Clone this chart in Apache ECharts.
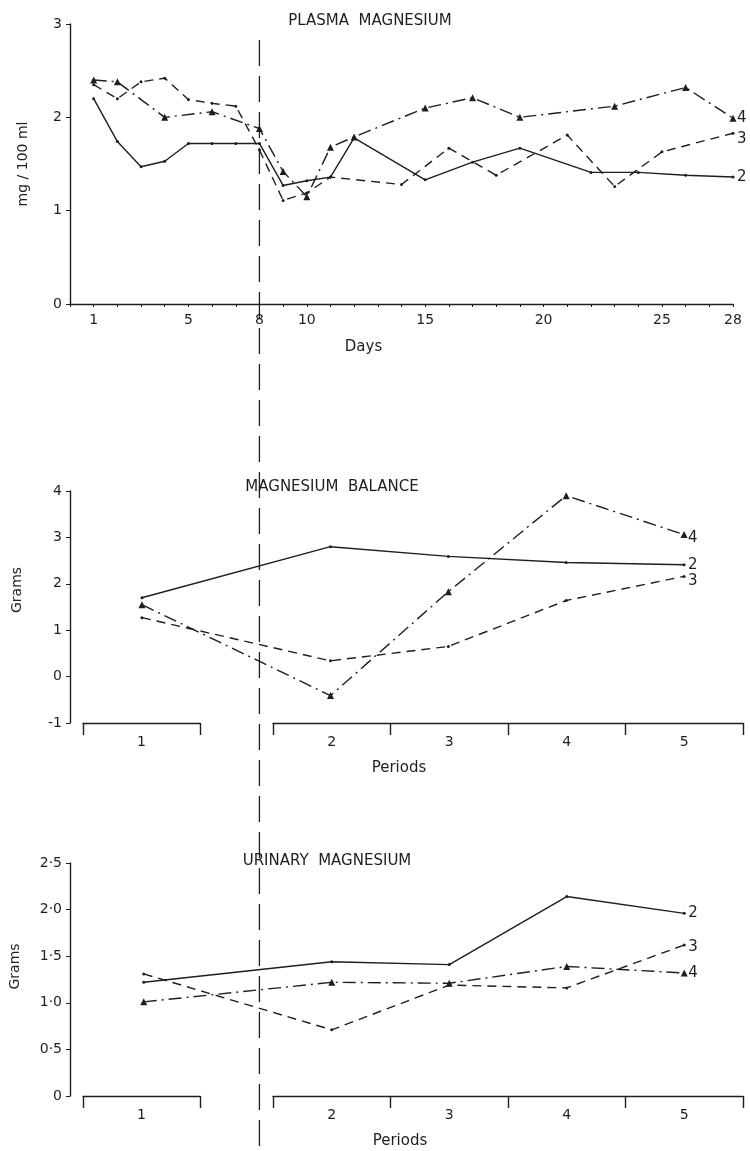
<!DOCTYPE html>
<html>
<head>
<meta charset="utf-8">
<style>
  html, body { margin: 0; padding: 0; background: #fff; }
  #container { width: 750px; height: 1151px; }
</style>
<script src="https://cdn.jsdelivr.net/npm/echarts@6/dist/echarts.min.js"></script>
</head>
<body>
<div id="container"></div>
<script>
// plasma magnesium, mg / 100 ml, by day
const days2 = [1, 2, 3, 4, 5, 6, 7, 8, 9, 10, 11, 12, 15, 17, 19, 22, 24, 26, 28]
const plasma2 = [2.2, 1.74, 1.47, 1.53, 1.72, 1.72, 1.72, 1.72, 1.27, 1.32, 1.36, 1.78, 1.33, 1.52, 1.67, 1.41, 1.41, 1.38, 1.36]
const days3 = [1, 2, 3, 4, 5, 6, 7, 8, 9, 10, 11, 14, 16, 18, 21, 23, 25, 28]
const plasma3 = [2.35, 2.2, 2.38, 2.42, 2.19, 2.15, 2.12, 1.65, 1.11, 1.19, 1.36, 1.28, 1.67, 1.38, 1.81, 1.26, 1.63, 1.83]
const days4 = [1, 2, 4, 6, 8, 9, 10, 11, 12, 15, 17, 19, 23, 26, 28]
const plasma4 = [2.4, 2.38, 2.0, 2.06, 1.88, 1.42, 1.15, 1.68, 1.79, 2.1, 2.21, 2.0, 2.12, 2.32, 1.99]
const dayLabels = [1, 5, 8, 10, 15, 20, 25, 28]

// balance and urinary magnesium, grams, by period
const periods = ['1', '2', '3', '4', '5']
const balance2 = [1.70, 2.80, 2.59, 2.46, 2.41]
const balance3 = [1.27, 0.34, 0.65, 1.64, 2.16]
const balance4 = [1.55, -0.41, 1.83, 3.90, 3.06]
const urinary2 = [1.22, 1.44, 1.41, 2.14, 1.96]
const urinary3 = [1.31, 0.71, 1.19, 1.16, 1.62]
const urinary4 = [1.01, 1.22, 1.21, 1.39, 1.32]

const ink = '#1e1e1e'
const font = 'DejaVu Sans'
const dom = document.getElementById('container')
const myChart = echarts.init(dom, null, { renderer: 'canvas' })

// period 1 sits apart from periods 2-5 (gap in the axis)
const periodX = i => i === 0 ? 0.4 : i + 1

const look = {
  '2': { type: 'solid', symbol: 'circle', symbolSize: 3 },
  '3': { type: [9, 6], symbol: 'circle', symbolSize: 3 },
  '4': { type: [13, 5, 2, 5], symbol: 'triangle', symbolSize: 7 }
}

const line = (name, data, axis, labelOffset) => ({
  name,
  type: 'line',
  xAxisIndex: axis,
  yAxisIndex: axis,
  data,
  symbol: look[name].symbol,
  symbolSize: look[name].symbolSize,
  lineStyle: { color: ink, width: 1.4, type: look[name].type },
  itemStyle: { color: ink },
  endLabel: {
    show: true, formatter: '{a}', color: ink, fontSize: 15,
    fontFamily: font, distance: 4, offset: labelOffset || [0, 0]
  },
  silent: true
})

const byDay = (days, vals) => days.map((d, i) => [d, vals[i]])
const byPeriod = vals => vals.map((v, i) => [periodX(i), v])

const txt = { color: ink, fontFamily: font, fontSize: 14 }
const axisLine = { show: true, onZero: false, lineStyle: { color: ink, width: 1.4 } }

const bracketAxis = (grid, cats) => ({
  type: 'category', gridIndex: grid, data: cats, boundaryGap: true,
  axisLine, axisTick: { show: true, length: 12, lineStyle: { color: ink, width: 1.4 } },
  axisLabel: { ...txt, margin: 12 }
})
const hiddenY = grid => ({ type: 'value', gridIndex: grid, show: false })

const periodAxis = grid => ({
  type: 'value', gridIndex: grid, min: -0.1, max: 5.5,
  axisLine: { show: false }, axisTick: { show: false },
  axisLabel: { show: false }, splitLine: { show: false },
  name: 'Periods', nameLocation: 'middle', nameGap: 38,
  nameTextStyle: { ...txt, fontSize: 15, padding: [0, 28, 0, 0] }
})

const title = (text, x, y) => ({
  text, left: x, top: y, textAlign: 'center',
  textStyle: { ...txt, fontWeight: 'normal', fontSize: 15 }
})

const option = {
  animation: false,
  title: [
    title('PLASMA  MAGNESIUM', 365, 9),
    title('MAGNESIUM  BALANCE', 327, 475),
    title('URINARY  MAGNESIUM', 322, 849)
  ],
  grid: [
    { left: 70, top: 24, width: 663, height: 280 },
    { left: 83, top: 491, width: 660, height: 232 },
    { left: 83, top: 491, width: 117, height: 232 },
    { left: 273, top: 491, width: 470, height: 232 },
    { left: 83, top: 863, width: 660, height: 233 },
    { left: 83, top: 863, width: 117, height: 233 },
    { left: 273, top: 863, width: 470, height: 233 }
  ],
  xAxis: [
    {
      type: 'value', gridIndex: 0, min: 0, max: 28, interval: 1,
      axisLine, splitLine: { show: false },
      axisTick: { show: true, length: 3, lineStyle: { color: ink } },
      axisLabel: { ...txt, margin: 9, customValues: dayLabels },
      name: 'Days', nameLocation: 'middle', nameGap: 36,
      nameTextStyle: { ...txt, fontSize: 15, padding: [0, 76, 0, 0] }
    },
    periodAxis(1),
    bracketAxis(2, periods.slice(0, 1)),
    bracketAxis(3, periods.slice(1)),
    periodAxis(4),
    bracketAxis(5, periods.slice(0, 1)),
    bracketAxis(6, periods.slice(1))
  ],
  yAxis: [
    {
      type: 'value', gridIndex: 0, min: 0, max: 3, interval: 1,
      axisLine, splitLine: { show: false },
      axisTick: { show: true, length: 4, lineStyle: { color: ink } },
      axisLabel: { ...txt, margin: 8 },
      name: 'mg / 100 ml', nameLocation: 'middle', nameGap: 40, nameRotate: 90,
      nameTextStyle: { ...txt }
    },
    {
      type: 'value', gridIndex: 1, min: -1, max: 4, interval: 1, offset: 13,
      axisLine, splitLine: { show: false },
      axisTick: { show: true, length: 4, lineStyle: { color: ink } },
      axisLabel: { ...txt, margin: 8 },
      name: 'Grams', nameLocation: 'middle', nameGap: 46, nameRotate: 90,
      nameTextStyle: { ...txt, padding: [0, 0, 0, 34] }
    },
    hiddenY(2),
    hiddenY(3),
    {
      type: 'value', gridIndex: 4, min: 0, max: 2.5, interval: 0.5, offset: 15,
      axisLine, splitLine: { show: false },
      axisTick: { show: true, length: 4, lineStyle: { color: ink } },
      axisLabel: {
        ...txt, margin: 8,
        formatter: v => v === 0 ? '0' : v.toFixed(1).replace('.', '·')
      },
      name: 'Grams', nameLocation: 'middle', nameGap: 48, nameRotate: 90,
      nameTextStyle: { ...txt, padding: [0, 0, 0, 26] }
    },
    hiddenY(5),
    hiddenY(6)
  ],
  series: [
    line('2', byDay(days2, plasma2), 0),
    line('3', byDay(days3, plasma3), 0, [0, 6]),
    line('4', byDay(days4, plasma4), 0),
    line('2', byPeriod(balance2), 1),
    line('3', byPeriod(balance3), 1, [0, 5]),
    line('4', byPeriod(balance4), 1, [0, 3]),
    line('2', byPeriod(urinary2), 4),
    line('3', byPeriod(urinary3), 4, [0, 2]),
    line('4', byPeriod(urinary4), 4)
  ]
}

myChart.setOption(option)

// dashed divider at day 8 running down through all three panels
const dividerX = myChart.convertToPixel({ xAxisIndex: 0 }, 8)
myChart.setOption({
  graphic: [{
    type: 'line', silent: true,
    shape: { x1: dividerX, y1: 40, x2: dividerX, y2: 1151 },
    style: { stroke: ink, lineWidth: 1.3, lineDash: [26, 10] }
  }]
})
</script>
</body>
</html>
